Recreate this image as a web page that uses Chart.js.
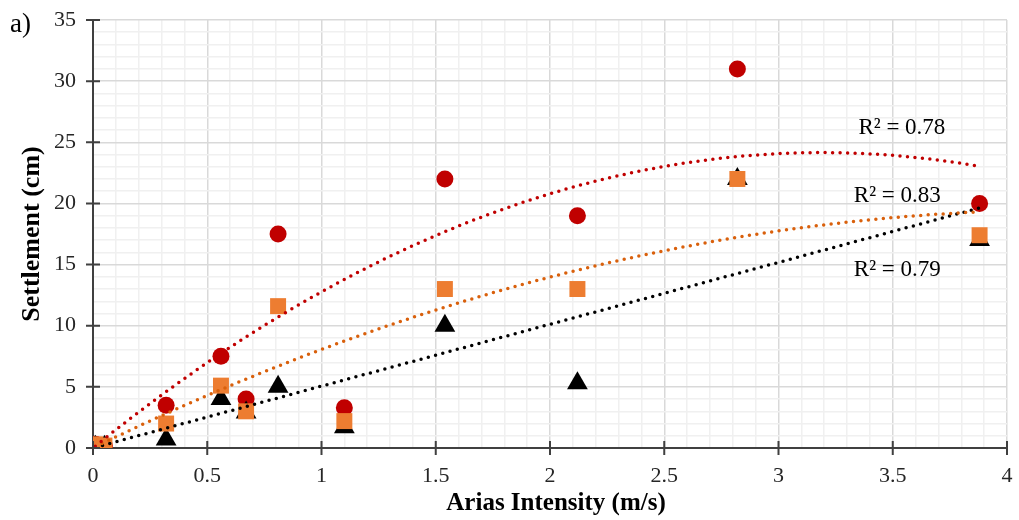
<!DOCTYPE html>
<html>
<head>
<meta charset="utf-8">
<script src="https://cdn.jsdelivr.net/npm/chart.js@4"></script>
<style>
  html, body { margin: 0; padding: 0; background: #fff; }
  #wrap { width: 1019px; height: 520px; }
</style>
</head>
<body>
<div id="wrap"><canvas id="myChart" width="1019" height="520"></canvas></div>
<script>
// Arias intensity (m/s) for each case
const ariasIntensity = [0.01, 0.05, 0.32, 0.56, 0.67, 0.81, 1.10, 1.54, 2.12, 2.82, 3.88];
// settlement (cm) for the three series
const settlementRed    = [0.3, 0.2, 3.5, 7.5, 4.0, 17.5, 3.3, 22.0, 19.0, 31.0, 20.0];
const settlementOrange = [0.3, 0.2, 2.0, 5.1, 3.0, 11.6, 2.2, 13.0, 13.0, 22.0, 17.4];
const settlementBlack  = [0.1, 0.1, 0.7, 4.0, 2.9, 5.0, 1.7, 10.0, 5.3, 22.0, 17.0];
const r2Labels = ['R² = 0.78', 'R² = 0.83', 'R² = 0.79'];
const yTickLabels = [0, 5, 10, 15, 20, 25, 30, 35];
const xTickLabels = [0, 0.5, 1, 1.5, 2, 2.5, 3, 3.5, 4];

function toPoints(xs, ys) {
    return xs.map((x, i) => ({ x: x, y: ys[i] }));
}

// least squares fit with intercept forced to 0 (degree 1 or 2)
function fitZero(xs, ys, degree) {
    let s2 = 0, s3 = 0, s4 = 0, sxy = 0, sx2y = 0;
    xs.forEach((x, i) => {
        s2 += x * x; s3 += x * x * x; s4 += x * x * x * x;
        sxy += x * ys[i]; sx2y += x * x * ys[i];
    });
    if (degree === 1) return { b: sxy / s2, a: 0 };
    const det = s2 * s4 - s3 * s3;
    return {
        b: (sxy * s4 - s3 * sx2y) / det,
        a: (s2 * sx2y - s3 * sxy) / det
    };
}

function trendPoints(xs, ys, degree) {
    const f = fitZero(xs, ys, degree);
    const lo = Math.min(...xs), hi = Math.max(...xs);
    const pts = [];
    const n = 120;
    for (let i = 0; i <= n; i++) {
        const x = lo + (hi - lo) * i / n;
        pts.push({ x: x, y: f.b * x + f.a * x * x });
    }
    return pts;
}

const isMajor = (v, step) => Math.abs(v / step - Math.round(v / step)) < 1e-6;

document.addEventListener("DOMContentLoaded", function() {
    const ctx = document.getElementById('myChart').getContext('2d');
    const serif = "'Liberation Serif', 'Times New Roman', serif";

    // tick marks crossing the axes, "a)", x title and R² texts
    const extras = {
        id: 'extras',
        afterDraw(chart) {
            const c = chart.ctx;
            const xs = chart.scales.x, ys = chart.scales.y;
            c.save();
            c.strokeStyle = '#404040';
            c.lineWidth = 2;
            c.beginPath();
            xTickLabels.forEach(v => {
                const px = xs.getPixelForValue(v);
                c.moveTo(px, ys.bottom - 7);
                c.lineTo(px, ys.bottom + 7);
            });
            yTickLabels.forEach(v => {
                const py = ys.getPixelForValue(v);
                c.moveTo(xs.left - 7, py);
                c.lineTo(xs.left + 7, py);
            });
            c.stroke();

            c.fillStyle = '#000';
            c.font = '27px ' + serif;
            c.textAlign = 'left';
            c.textBaseline = 'alphabetic';
            c.fillText('a)', 10, 32);

            c.font = 'bold 25px ' + serif;
            c.textAlign = 'center';
            c.textBaseline = 'middle';
            c.fillText('Arias Intensity (m/s)', (xs.left + xs.right) / 2 + 6, 504);

            c.font = '23px ' + serif;
            const spots = [[3.54, 26.2], [3.52, 20.6], [3.52, 14.6]];
            r2Labels.forEach((t, i) => {
                c.fillText(t, xs.getPixelForValue(spots[i][0]), ys.getPixelForValue(spots[i][1]));
            });
            c.restore();
        }
    };

    const data = {
        datasets: [
            {
                label: 'red trend',
                type: 'line',
                data: trendPoints(ariasIntensity, settlementRed, 2),
                borderColor: '#c00000',
                borderWidth: 3.5,
                borderDash: [0, 7.5],
                borderCapStyle: 'round',
                pointRadius: 0,
                fill: false,
                order: 0
            },
            {
                label: 'orange trend',
                type: 'line',
                data: trendPoints(ariasIntensity, settlementOrange, 2),
                borderColor: '#d9600c',
                borderWidth: 3.5,
                borderDash: [0, 7.5],
                borderCapStyle: 'round',
                pointRadius: 0,
                fill: false,
                order: 0
            },
            {
                label: 'black trend',
                type: 'line',
                data: trendPoints(ariasIntensity, settlementBlack, 1),
                borderColor: '#000000',
                borderWidth: 3.5,
                borderDash: [0, 7.5],
                borderCapStyle: 'round',
                pointRadius: 0,
                fill: false,
                order: 0
            },
            {
                label: 'orange',
                data: toPoints(ariasIntensity, settlementOrange),
                pointStyle: 'rect',
                pointRadius: 11.3,
                backgroundColor: '#ed7d31',
                borderWidth: 0,
                order: 1
            },
            {
                label: 'black',
                data: toPoints(ariasIntensity, settlementBlack),
                pointStyle: 'triangle',
                pointRadius: 12,
                backgroundColor: '#000000',
                borderWidth: 0,
                order: 2
            },
            {
                label: 'red',
                data: toPoints(ariasIntensity, settlementRed),
                pointStyle: 'circle',
                pointRadius: 8.5,
                backgroundColor: '#c00000',
                borderWidth: 0,
                order: 3
            }
        ]
    };

    const config = {
        type: 'scatter',
        data: data,
        options: {
            responsive: false,
            animation: false,
            layout: { padding: { top: 20, right: 10, left: 0, bottom: 0 } },
            scales: {
                x: {
                    type: 'linear',
                    min: 0,
                    max: 4,
                    afterBuildTicks: (scale) => {
                        const t = [];
                        for (let i = 0; i <= 40; i++) t.push({ value: i / 10 });
                        scale.ticks = t;
                    },
                    afterFit: (scale) => {
                        scale.height = 72;
                        scale.paddingLeft = 0;
                        scale.paddingRight = 0;
                    },
                    ticks: {
                        autoSkip: false,
                        maxRotation: 0,
                        padding: 15,
                        color: '#262626',
                        font: { family: serif, size: 22 },
                        callback: (v) => isMajor(v, 0.5) ? String(Math.round(v * 10) / 10) : ''
                    },
                    grid: {
                        drawTicks: false,
                        color: (c) => isMajor(c.tick.value, 0.5) ? '#d9d9d9' : '#f0f0f0',
                        lineWidth: 1.5
                    },
                    border: { display: true, color: '#404040', width: 2 },
                    title: { display: false }
                },
                y: {
                    min: 0,
                    max: 35,
                    afterBuildTicks: (scale) => {
                        const t = [];
                        for (let i = 0; i <= 35; i++) t.push({ value: i });
                        scale.ticks = t;
                    },
                    afterFit: (scale) => {
                        scale.width = 93;
                        scale.paddingTop = 0;
                        scale.paddingBottom = 0;
                    },
                    ticks: {
                        autoSkip: false,
                        padding: 17,
                        color: '#262626',
                        font: { family: serif, size: 22 },
                        callback: (v) => isMajor(v, 5) ? String(v) : ''
                    },
                    grid: {
                        drawTicks: false,
                        color: (c) => isMajor(c.tick.value, 5) ? '#d9d9d9' : '#f0f0f0',
                        lineWidth: 1.5
                    },
                    border: { display: true, color: '#404040', width: 2 },
                    title: {
                        display: true,
                        text: 'Settlement (cm)',
                        color: '#000',
                        font: { family: serif, size: 26, weight: 'bold' },
                        padding: { top: 17, bottom: 0 }
                    }
                }
            },
            plugins: {
                legend: { display: false },
                tooltip: { enabled: false }
            }
        },
        plugins: [extras]
    };

    const myChart = new Chart(ctx, config);
});
</script>
</body>
</html>
